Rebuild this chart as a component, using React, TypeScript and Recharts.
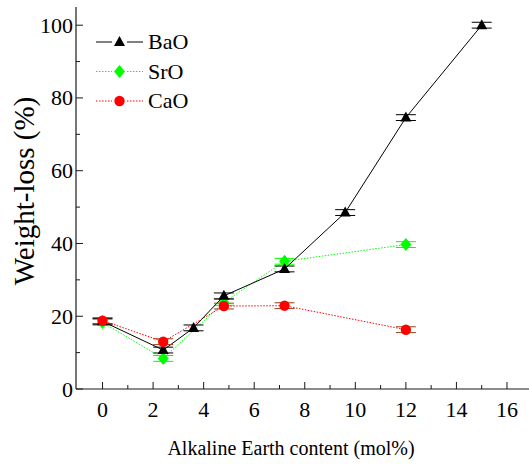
import React from "react";
import {
  LineChart,
  Line,
  XAxis,
  YAxis,
  ErrorBar,
} from "recharts";

// Weight-loss vs. alkaline earth content, three oxide series
const baoContent = [0, 2.4, 3.6, 4.8, 7.2, 9.6, 12, 15];
const baoLoss = [18.6, 10.7, 16.8, 25.6, 33.0, 48.5, 74.6, 100];
const baoErr = [0.8, 0.8, 0.8, 0.8, 0.8, 0.8, 0.8, 0.8];

const sroContent = [0, 2.4, 4.8, 7.2, 12];
const sroLoss = [18.3, 8.4, 23.8, 35.1, 39.7];
const sroErr = [0.8, 0.8, 0.8, 0.8, 0.8];

const caoContent = [0, 2.4, 4.8, 7.2, 12];
const caoLoss = [18.8, 13.0, 22.8, 22.9, 16.3];
const caoErr = [0.8, 0.8, 0.8, 0.8, 0.8];

const seriesNames = ["BaO", "SrO", "CaO"];

const xTicks = [0, 1, 2, 3, 4, 5, 6, 7, 8, 9, 10, 11, 12, 13, 14, 15, 16];
const yTicks = [0, 10, 20, 30, 40, 50, 60, 70, 80, 90, 100];

const FONT = '"Liberation Serif", "Times New Roman", Times, serif';
const AXIS = "#1a1a1a";

const toRows = (xs: number[], ys: number[], errs: number[]) =>
  xs.map((x, i) => ({ x, y: ys[i], err: errs[i] }));

const baoData = toRows(baoContent, baoLoss, baoErr);
const sroData = toRows(sroContent, sroLoss, sroErr);
const caoData = toRows(caoContent, caoLoss, caoErr);

const COLORS = { BaO: "#000000", SrO: "#00ff00", CaO: "#ff0000" };

const textStyle = (size: number): React.CSSProperties => ({
  fontFamily: FONT,
  fontSize: size,
  fill: "#000",
});

const Triangle = ({ cx, cy, fill }: any) => (
  <path d={`M${cx},${cy - 6} L${cx + 5.5},${cy + 4} L${cx - 5.5},${cy + 4} Z`} fill={fill} />
);
const Diamond = ({ cx, cy, fill }: any) => (
  <path d={`M${cx},${cy - 6.5} L${cx + 5.5},${cy} L${cx},${cy + 6.5} L${cx - 5.5},${cy} Z`} fill={fill} />
);
const Circle = ({ cx, cy, fill }: any) => <circle cx={cx} cy={cy} r={5.2} fill={fill} />;

const isMajorX = (v: number) => v % 2 === 0;
const isMajorY = (v: number) => v % 20 === 0;

const BottomTick = ({ x, y, payload }: any) => {
  const major = isMajorX(payload.value);
  return (
    <g>
      <line x1={x} y1={y} x2={x} y2={y - (major ? 7 : 4)} stroke={AXIS} />
      {major && (
        <text x={x} y={y + 28} textAnchor="middle" style={textStyle(22)}>
          {payload.value}
        </text>
      )}
    </g>
  );
};

const TopTick = ({ x, y, payload }: any) => {
  const major = isMajorX(payload.value);
  return <line x1={x} y1={y} x2={x} y2={y + (major ? 7 : 4)} stroke={AXIS} />;
};

const LeftTick = ({ x, y, payload }: any) => {
  const major = isMajorY(payload.value);
  return (
    <g>
      <line x1={x} y1={y} x2={x + (major ? 7 : 4)} y2={y} stroke={AXIS} />
      {major && (
        <text x={x - 3} y={y + 7.5} textAnchor="end" style={textStyle(22)}>
          {payload.value}
        </text>
      )}
    </g>
  );
};

const RightTick = ({ x, y, payload }: any) => {
  const major = isMajorY(payload.value);
  return <line x1={x} y1={y} x2={x - (major ? 7 : 4)} y2={y} stroke={AXIS} />;
};

const markers: Record<string, (p: any) => React.ReactElement> = {
  BaO: Triangle,
  SrO: Diamond,
  CaO: Circle,
};

const Legend = () => (
  <svg width={200} height={120} style={{ position: "absolute", left: 0, top: 0 }}>
    {seriesNames.map((name, i) => {
      const y = 42 + i * 29.5;
      const color = COLORS[name as keyof typeof COLORS];
      const dash = name === "BaO" ? undefined : "1.5 1.5";
      const Marker = markers[name];
      return (
        <g key={name}>
          <line x1={96} x2={112} y1={y} y2={y} stroke={color} strokeDasharray={dash} />
          <line x1={127} x2={143} y1={y} y2={y} stroke={color} strokeDasharray={dash} />
          <Marker cx={119.5} cy={y} fill={color} />
          <text x={148} y={y + 7} style={textStyle(22)}>
            {name}
          </text>
        </g>
      );
    })}
  </svg>
);

const dotFor = (name: string) => (props: any) => {
  const Marker = markers[name];
  return <Marker key={`${name}-${props.index}`} cx={props.cx} cy={props.cy} fill={COLORS[name as keyof typeof COLORS]} />;
};

export default function App() {
  return (
    <div style={{ position: "absolute", left: 0, top: 0, width: 529, height: 464, overflow: "hidden", background: "#fff" }}>
      <LineChart width={531} height={464} margin={{ top: 7, right: 0, bottom: 0, left: 0 }}>
        <XAxis
          dataKey="x"
          type="number"
          domain={[-1.05, 16.95]}
          ticks={xTicks}
          interval={0}
          height={75}
          tickSize={0}
          tickMargin={0}
          tick={<BottomTick />}
          axisLine={{ stroke: AXIS, strokeWidth: 1.2 }}
          allowDuplicatedCategory={false}
          label={{
            content: () => (
              <text x={291} y={455} textAnchor="middle" style={textStyle(20)}>
                Alkaline Earth content (mol%)
              </text>
            ),
          }}
        />
        <XAxis
          xAxisId="top"
          orientation="top"
          dataKey="x"
          type="number"
          domain={[-1.05, 16.95]}
          ticks={xTicks}
          interval={0}
          height={0}
          tickSize={0}
          tickMargin={0}
          tick={<TopTick />}
          axisLine={{ stroke: AXIS, strokeWidth: 1.2 }}
        />
        <YAxis
          type="number"
          domain={[0, 105]}
          ticks={yTicks}
          interval={0}
          width={76}
          tickSize={0}
          tickMargin={0}
          tick={<LeftTick />}
          axisLine={{ stroke: AXIS, strokeWidth: 1.2 }}
          label={{
            content: () => (
              <text
                x={34}
                y={191}
                transform="rotate(-90 34 191)"
                textAnchor="middle"
                style={textStyle(29)}
              >
                Weight-loss (%)
              </text>
            ),
          }}
        />
        <YAxis
          yAxisId="right"
          orientation="right"
          type="number"
          domain={[0, 105]}
          ticks={yTicks}
          interval={0}
          width={0}
          tickSize={0}
          tickMargin={0}
          tick={<RightTick />}
          axisLine={{ stroke: AXIS, strokeWidth: 1.2 }}
        />
        <Line
          data={sroData}
          dataKey="y"
          stroke={COLORS.SrO}
          strokeWidth={1}
          strokeDasharray="1.5 1.5"
          dot={dotFor("SrO")}
          isAnimationActive={false}
        >
          <ErrorBar dataKey="err" direction="y" width={10} stroke={COLORS.SrO} strokeWidth={1} />
        </Line>
        <Line
          data={baoData}
          dataKey="y"
          stroke={COLORS.BaO}
          strokeWidth={1}
          dot={dotFor("BaO")}
          isAnimationActive={false}
        >
          <ErrorBar dataKey="err" direction="y" width={10} stroke={COLORS.BaO} strokeWidth={1} />
        </Line>
        <Line
          data={caoData}
          dataKey="y"
          stroke={COLORS.CaO}
          strokeWidth={1}
          strokeDasharray="1.5 1.5"
          dot={dotFor("CaO")}
          isAnimationActive={false}
        >
          <ErrorBar dataKey="err" direction="y" width={10} stroke="#8b4513" strokeWidth={1} />
        </Line>
      </LineChart>
      <Legend />
    </div>
  );
}
